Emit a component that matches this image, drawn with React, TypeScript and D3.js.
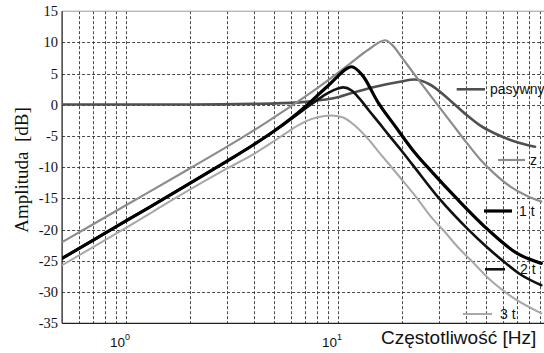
import React from 'react';
import * as d3 from 'd3';

// ---- data ----
const FREQ_PAS = [0.5, 1, 2, 4, 6.6, 8.5, 10.2, 11.4, 15, 19.6, 23, 27, 33.8, 40, 46.8, 55, 62.5, 72, 85];
const DB_PAS = [0.05, 0.05, 0.05, 0.15, 0.4, 0.8, 1.3, 1.8, 2.9, 3.7, 4.05, 3.3, 0.7, -1.5, -3.3, -4.6, -5.4, -6.1, -6.7];

const FREQ_Z = [0.5, 1, 2, 3, 4.6, 7, 9.2, 11.4, 14, 16.7, 18, 20, 22, 25, 29.2, 35, 40.5, 47, 54.2, 65, 78, 91];
const DB_Z = [-22, -16.1, -10.2, -6.7, -2.8, 1.3, 4.2, 6.6, 8.9, 10.35, 9.6, 7.6, 5.7, 3.2, 0.2, -3.3, -6.1, -8.8, -10.9, -13.1, -14.6, -15.5];

const FREQ_1T = [0.5, 1, 2, 3, 4, 5, 6, 7, 8, 9, 10, 11, 11.6, 13, 15.45, 18.5, 22.6, 28, 36.3, 51, 70, 91];
const DB_1T = [-24.6, -18.6, -12.6, -9.0, -6.4, -4.2, -2.2, -0.3, 1.5, 3.1, 4.6, 5.8, 6.1, 4.8, 0.4, -3.3, -7.3, -10.9, -15, -20, -23.8, -25.4];

const FREQ_2T = [0.5, 1, 2, 3, 4, 5, 6, 7, 8, 9, 10, 10.6, 11.6, 12.7, 14, 15.8, 17.6, 20, 22.6, 30, 41.2, 50, 60, 72, 91];
const DB_2T = [-24.6, -18.6, -12.6, -9.0, -6.4, -4.2, -2.3, -0.6, 0.8, 1.9, 2.6, 2.8, 2.3, 0.9, -0.9, -3.1, -5.1, -7.4, -9.7, -15, -20, -22.7, -25, -27.1, -28.9];

const FREQ_3T = [0.5, 1, 2, 3, 4, 5, 6, 7, 8, 9.3, 10.5, 12, 13.65, 15.8, 19.6, 22.8, 28.2, 31.4, 37, 43.5, 52, 65, 91];
const DB_3T = [-25.7, -19.7, -13.6, -10.2, -7.9, -5.8, -4.0, -2.7, -2.0, -1.7, -2.0, -3.3, -5.2, -7.8, -11.6, -14.3, -18.4, -20.1, -22.9, -25.3, -28.0, -30.6, -33.4];

const Y_TICKS = [15, 10, 5, 0, -5, -10, -15, -20, -25, -30, -35];
const X_DECADE_TICKS = [1, 10];
const X_DECADE_EXP = ['0', '1'];
const X_GRID = [0.6, 0.7, 0.8, 0.9, 1, 2, 3, 4, 5, 6, 7, 8, 9, 10, 20, 30, 40, 50, 60, 70, 80, 90];
const LEGEND_LABELS = ['pasywny', 'z', '1 t', '2 t', '3 t'];

// ---- layout ----
const W = 544;
const H = 353;
const X_LEFT = 62.1;
const X_RIGHT = 550;
const Y_BOTTOM = 323.3;
const Y_TOP = 11.2;

const SERIES = [
  { key: 'pasywny', f: FREQ_PAS, v: DB_PAS, color: '#505050', width: 2.6 },
  { key: 'z', f: FREQ_Z, v: DB_Z, color: '#8c8c8c', width: 2.2 },
  { key: '3 t', f: FREQ_3T, v: DB_3T, color: '#a8a8a8', width: 2.0 },
  { key: '2 t', f: FREQ_2T, v: DB_2T, color: '#111111', width: 2.6 },
  { key: '1 t', f: FREQ_1T, v: DB_1T, color: '#000000', width: 3.2 },
];

const LEGEND_POS: Record<string, { x0: number; x1: number; y: number; tx: number; color: string; w: number }> = {
  pasywny: { x0: 456.7, x1: 485, y: 89.3, tx: 490, color: '#505050', w: 2.6 },
  z: { x0: 498, x1: 525, y: 160, tx: 530, color: '#8c8c8c', w: 2.2 },
  '1 t': { x0: 484, x1: 512, y: 211, tx: 519, color: '#000000', w: 3.2 },
  '2 t': { x0: 485, x1: 505, y: 269.3, tx: 520, color: '#111111', w: 2.6 },
  '3 t': { x0: 463, x1: 492, y: 314, tx: 500, color: '#a8a8a8', w: 2.0 },
};

export default function App() {
  const x = d3.scaleLog().domain([0.5, 100]).range([X_LEFT, X_RIGHT]);
  const y = d3.scaleLinear().domain([-35, 15]).range([Y_BOTTOM, Y_TOP]);

  const line = d3
    .line<[number, number]>()
    .x((d) => x(d[0]))
    .y((d) => y(d[1]))
    .curve(d3.curveMonotoneX);

  const serif = '"Liberation Serif", "Times New Roman", serif';
  const sans = '"Liberation Sans", Arial, sans-serif';

  return (
    <svg
      width={W}
      height={H}
      viewBox={`0 0 ${W} ${H}`}
      style={{ position: 'absolute', left: 0, top: 0, background: '#fff' }}
    >
      <defs>
        <clipPath id="plotclip">
          <rect x={X_LEFT} y={Y_TOP - 2} width={X_RIGHT - X_LEFT} height={Y_BOTTOM - Y_TOP + 2} />
        </clipPath>
      </defs>
      <rect x={0} y={0} width={W} height={H} fill="#fff" />

      {/* grid */}
      <g stroke="#333" strokeWidth={0.9} strokeDasharray="3,2" fill="none">
        {Y_TICKS.filter((t) => t !== -35 && t !== 15).map((t) => (
          <line key={'gy' + t} x1={X_LEFT} x2={X_RIGHT} y1={Math.round(y(t)) + 0.5} y2={Math.round(y(t)) + 0.5} />
        ))}
        {X_GRID.map((f) => (
          <line key={'gx' + f} x1={Math.round(x(f)) + 0.5} x2={Math.round(x(f)) + 0.5} y1={Y_TOP} y2={Y_BOTTOM} />
        ))}
      </g>

      {/* axes box */}
      <line x1={X_LEFT} x2={X_RIGHT} y1={Y_TOP} y2={Y_TOP} stroke="#9a9a9a" strokeWidth={1} />
      <line x1={X_LEFT} x2={X_RIGHT} y1={Y_BOTTOM} y2={Y_BOTTOM} stroke="#222" strokeWidth={1.2} />
      <line x1={X_LEFT} x2={X_LEFT} y1={Y_TOP} y2={Y_BOTTOM} stroke="#111" strokeWidth={1.2} />

      {/* curves */}
      <g clipPath="url(#plotclip)" fill="none" strokeLinejoin="round" strokeLinecap="round">
        {SERIES.map((s) => (
          <path
            key={s.key}
            d={line(s.f.map((f, i) => [f, s.v[i]] as [number, number])) || ''}
            stroke={s.color}
            strokeWidth={s.width}
          />
        ))}
      </g>

      {/* legend */}
      <g>
        {LEGEND_LABELS.map((lab) => {
          const p = LEGEND_POS[lab];
          return (
            <g key={lab}>
              <line x1={p.x0} x2={p.x1} y1={p.y} y2={p.y} stroke={p.color} strokeWidth={p.w} />
              <text x={p.tx} y={p.y + 5} fontFamily={sans} fontSize={14} fill="#111">
                {lab}
              </text>
            </g>
          );
        })}
      </g>

      {/* y tick labels */}
      <g fontFamily={serif} fontSize={14.5} fill="#111" textAnchor="end">
        {Y_TICKS.map((t) => (
          <text key={'yt' + t} x={58} y={y(t) + 5}>
            {t}
          </text>
        ))}
      </g>

      {/* x tick labels */}
      <g fontFamily={sans} fontSize={13.5} fill="#111">
        {X_DECADE_TICKS.map((f, i) => (
          <text key={'xt' + f} x={x(f) - 6} y={346.5} textAnchor="middle">
            <tspan>10</tspan>
            <tspan dy={-7} fontSize={9}>
              {X_DECADE_EXP[i]}
            </tspan>
          </text>
        ))}
      </g>

      {/* axis titles */}
      <text x={381} y={344} fontFamily={sans} fontSize={19} fill="#111">
        Częstotliwość [Hz]
      </text>
      <text
        transform={`translate(28, 170) rotate(-90)`}
        textAnchor="middle"
        fontFamily={serif}
        fontSize={19}
        fill="#111"
        style={{ whiteSpace: 'pre' }}
      >
        {'Amplituda  [dB]'}
      </text>
    </svg>
  );
}
